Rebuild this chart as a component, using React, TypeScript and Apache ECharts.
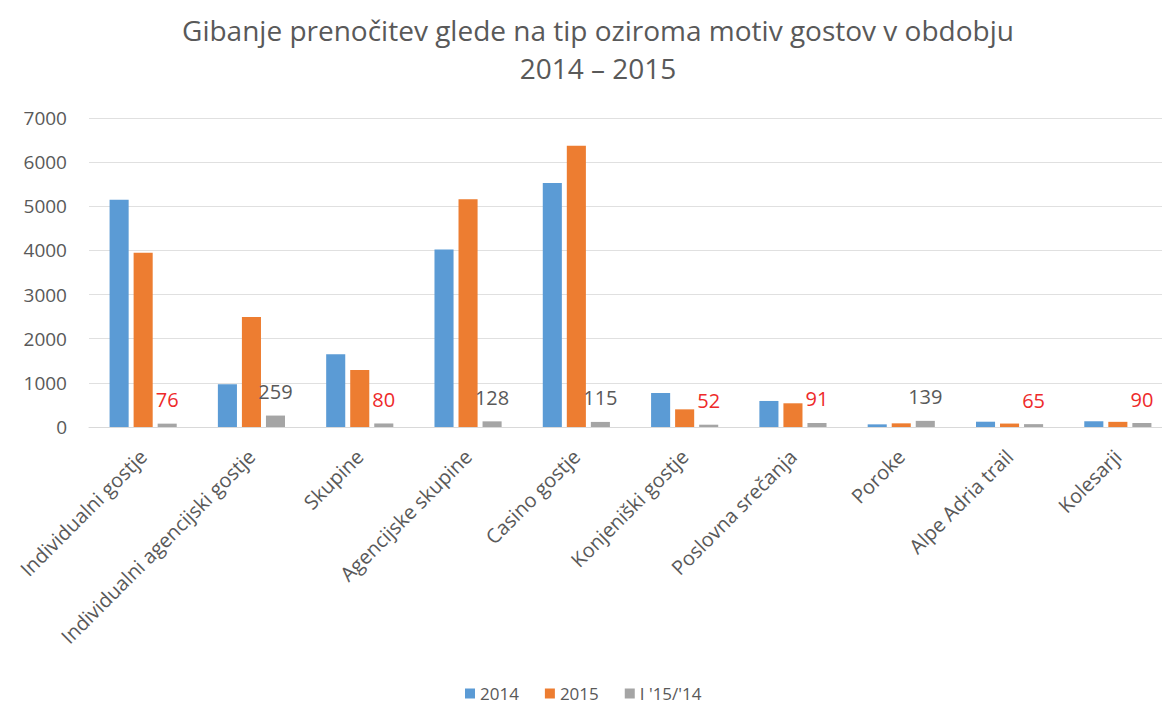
import React, { useEffect, useRef } from "react";
import * as echarts from "echarts";

const categories = [
  "Individualni gostje",
  "Individualni agencijski gostje",
  "Skupine",
  "Agencijske skupine",
  "Casino gostje",
  "Konjeniški gostje",
  "Poslovna srečanja",
  "Poroke",
  "Alpe Adria trail",
  "Kolesarji",
];
const values2014 = [5150, 970, 1650, 4020, 5530, 770, 590, 60, 120, 130];
const values2015 = [3950, 2490, 1290, 5160, 6370, 400, 537, 83, 78, 117];
const indexValues = [76, 259, 80, 128, 115, 52, 91, 139, 65, 90];
const yTicks = { min: 0, max: 7000, interval: 1000 };
const seriesNames = ["2014", "2015", "I '15/'14"];

const FONT = "'Open Sans', 'Noto Sans', sans-serif";
const TXT = "#595959";

export default function App() {
  const ref = useRef<HTMLDivElement>(null);
  useEffect(() => {
    if (!ref.current) return;
    const chart = echarts.init(ref.current, null, { renderer: "svg" });
    chart.setOption({
      animation: false,
      textStyle: { fontFamily: FONT },
      title: {
        text: "Gibanje prenočitev glede na tip oziroma motiv gostov v obdobju\n2014 – 2015",
        left: 598,
        textAlign: "center",
        top: 11,
        padding: 0,
        textStyle: {
          fontFamily: FONT,
          fontSize: 28,
          fontWeight: "normal",
          color: TXT,
          lineHeight: 38,
        },
      },
      legend: {
        top: 680,
        left: 460,
        itemWidth: 10,
        itemHeight: 10,
        itemGap: 26,
        icon: "rect",
        textStyle: { fontFamily: FONT, fontSize: 17, color: TXT },
        data: seriesNames,
      },
      grid: { left: 89, right: 8, top: 118, bottom: 280 },
      xAxis: {
        type: "category",
        data: categories,
        axisLine: { lineStyle: { color: "#d9d9d9" } },
        axisTick: { show: false },
        axisLabel: {
          rotate: 45,
          interval: 0,
          color: TXT,
          fontSize: 20,
          fontFamily: FONT,
          margin: 26,
        },
      },
      yAxis: {
        type: "value",
        min: yTicks.min,
        max: yTicks.max,
        interval: yTicks.interval,
        axisLine: { show: false },
        axisTick: { show: false },
        splitLine: { lineStyle: { color: "#e0e0e0" } },
        axisLabel: {
          color: TXT,
          fontSize: 19,
          fontFamily: FONT,
          margin: 22,
          formatter: (v: number) => String(v),
        },
      },
      series: [
        {
          name: seriesNames[0],
          type: "bar",
          data: values2014,
          itemStyle: { color: "#5B9BD5" },
          barGap: "26%",
          barCategoryGap: "38%",
        },
        {
          name: seriesNames[1],
          type: "bar",
          data: values2015,
          itemStyle: { color: "#ED7D31" },
        },
        {
          name: seriesNames[2],
          type: "bar",
          data: indexValues.map((v) => ({
            value: v,
            label: { color: v < 100 ? "#EE2A2A" : TXT },
          })),
          itemStyle: { color: "#A5A5A5" },
          label: {
            show: true,
            position: "top",
            distance: 14,
            fontSize: 20,
            fontFamily: FONT,
          },
        },
      ],
    });
    return () => chart.dispose();
  }, []);
  return (
    <div
      style={{
        position: "fixed",
        left: 0,
        top: 0,
        width: 1162,
        height: 707,
        overflow: "hidden",
        background: "#fff",
      }}
    >
      <div ref={ref} style={{ width: 1180, height: 707 }} />
    </div>
  );
}
